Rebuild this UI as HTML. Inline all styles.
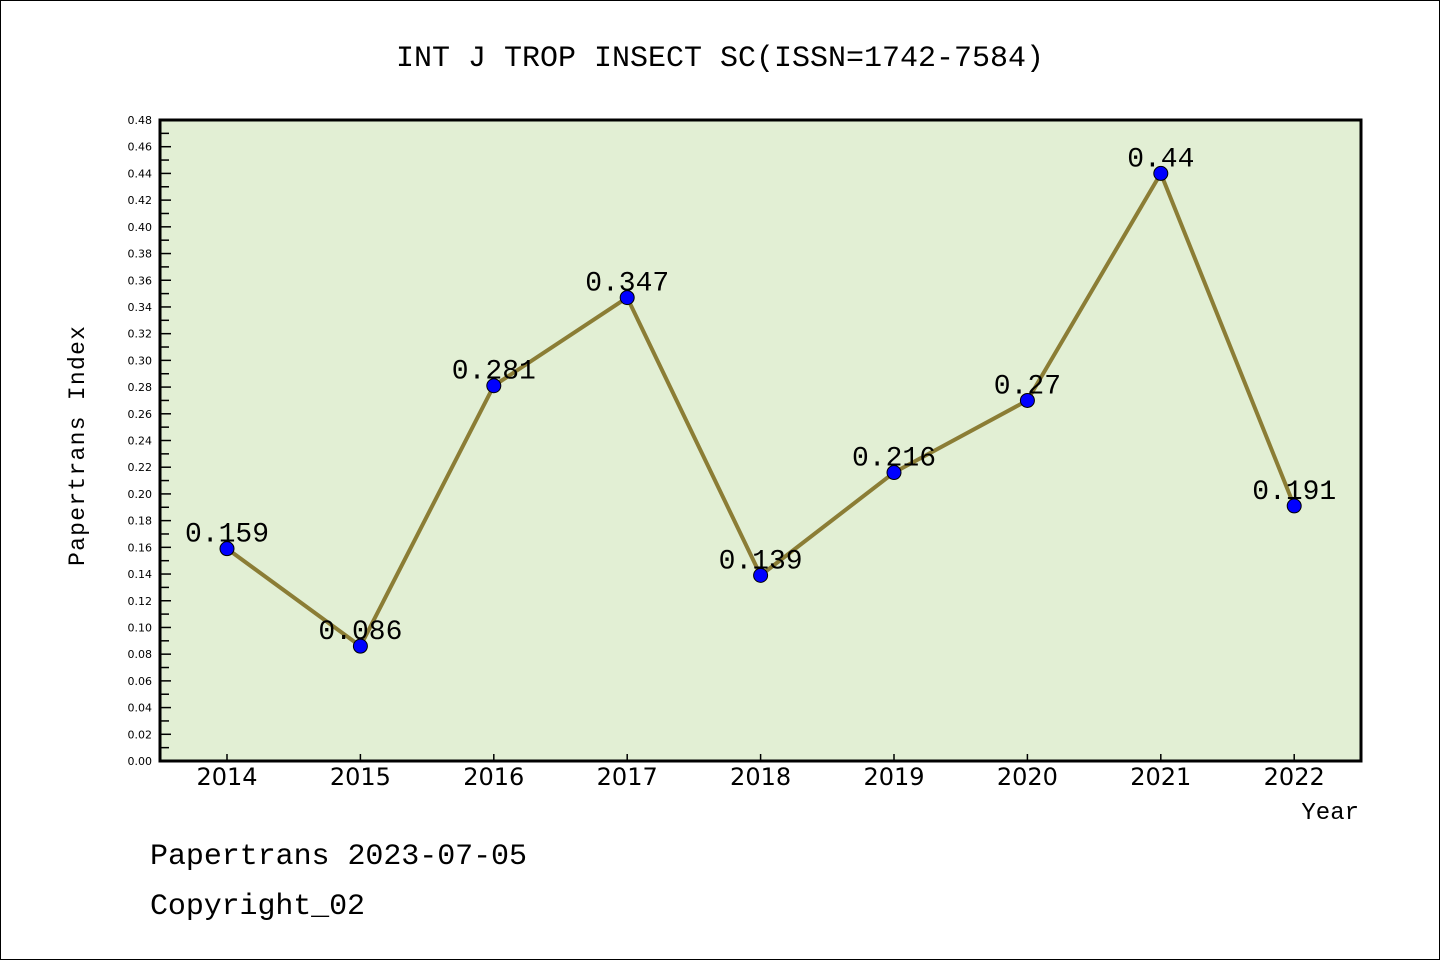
<!DOCTYPE html>
<html><head><meta charset="utf-8"><style>
body{margin:0;background:#fff;}
svg{display:block;font-family:"Liberation Mono","DejaVu Sans Mono",monospace;}
</style></head><body>
<svg id="chart" width="1440" height="960">
<rect x="0.5" y="0.5" width="1439" height="959" fill="#fff" stroke="#000"/>
<text x="720" y="66" text-anchor="middle" font-size="30">INT J TROP INSECT SC(ISSN=1742-7584)</text>
<rect x="160" y="120" width="1201" height="641" fill="#e2efd4"/>
<g id="axes"></g>
<g id="series"></g>
<rect x="160" y="120" width="1201" height="641" fill="none" stroke="#000" stroke-width="3"/>
<text transform="translate(84,446) rotate(-90)" text-anchor="middle" font-size="23" textLength="240">Papertrans Index</text>
<text x="1359" y="819" text-anchor="end" font-size="24">Year</text>
<text x="150" y="864" font-size="30" textLength="377">Papertrans 2023-07-05</text>
<text x="150" y="914" font-size="30" textLength="215">Copyright_02</text>
</svg>
<script>
const years=["2014","2015","2016","2017","2018","2019","2020","2021","2022"];
const values=[0.159,0.086,0.281,0.347,0.139,0.216,0.27,0.44,0.191];
const valueLabels=["0.159","0.086","0.281","0.347","0.139","0.216","0.27","0.44","0.191"];
const yMax=0.48;
const NS="http://www.w3.org/2000/svg";
function xS(i){return 227+i*133.4;}
function yS(v){return 761-v/yMax*641;}
function mk(t,a,p){const e=document.createElementNS(NS,t);for(const k in a)e.setAttribute(k,a[k]);p.appendChild(e);return e;}
const ax=document.getElementById('axes');
for(let k=0;k<=48;k++){
  const v=k/100,y=yS(v),major=k%2==0;
  const t=mk('line',{x1:160,x2:major?171:169,y1:y,y2:y,stroke:'#000','stroke-width':1.5},ax);
  
  
  if(major){
    const l=mk('text',{x:152,y:y+4,'text-anchor':'end','font-size':11,'font-family':'"DejaVu Sans",sans-serif'},ax);
    l.textContent=v.toFixed(2);
    
    
  }
}
years.forEach((yr,i)=>{
  const x=xS(i);
  const t=mk('line',{x1:x,x2:x,y1:761,y2:754,stroke:'#000','stroke-width':1.5},ax);
  
  
  const l=mk('text',{x:x,y:785,'text-anchor':'middle','font-size':24,'font-family':'"DejaVu Sans",sans-serif'},ax);
  l.textContent=yr;
  
  
});
const se=document.getElementById('series');
const pl=mk('polyline',{points:values.map((v,i)=>xS(i)+','+yS(v)).join(' '),fill:'none',stroke:'#8b7d35','stroke-width':4},se);


values.forEach((v,i)=>{
  const c=mk('circle',{cx:xS(i),cy:yS(v),r:7,fill:'#0000ff',stroke:'#000','stroke-width':1},se);
  
  
  const l=mk('text',{x:xS(i),y:yS(v)-7,'text-anchor':'middle','font-size':28},se);
  l.textContent=valueLabels[i];
  
  
});
</script>
</body></html>
